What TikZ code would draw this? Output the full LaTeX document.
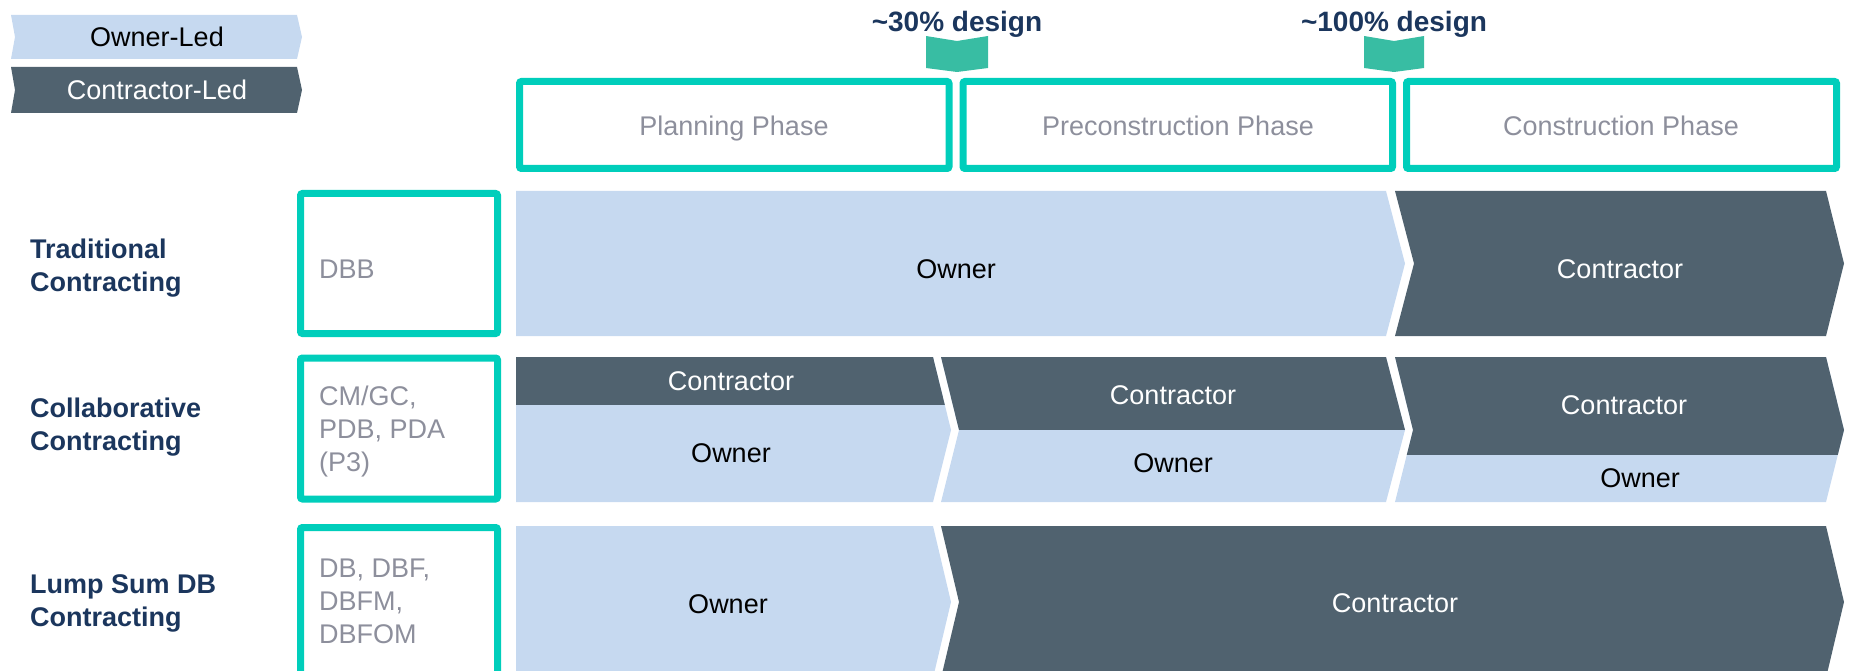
\documentclass[tikz,border=0pt]{standalone}
\usepackage{fontspec}
\setmainfont{Liberation Sans}
\definecolor{ownerblue}{RGB}{198,217,240}
\definecolor{contdark}{RGB}{80,98,111}
\definecolor{tealbox}{RGB}{0,206,187}
\definecolor{tealmark}{RGB}{56,189,163}
\definecolor{navy}{RGB}{27,54,93}
\definecolor{graytxt}{RGB}{141,143,156}
\tikzset{
  txt/.style={font=\fontsize{27}{33}\selectfont, inner sep=0pt, text depth=0pt},
  blk/.style={txt, text=black},
  wht/.style={txt, text=white},
  gry/.style={font=\fontsize{27}{33}\selectfont, inner sep=0pt, text=graytxt, align=left, anchor=west},
  rowlbl/.style={font=\bfseries\fontsize{27}{33}\selectfont, inner sep=0pt, text=navy, align=left, anchor=west},
  designlbl/.style={font=\bfseries\fontsize{28}{33}\selectfont, inner sep=0pt, text depth=0pt, text=navy},
  tealframe/.style={draw=tealbox, line width=7pt, rounded corners=2pt},
  ownfill/.style={fill=ownerblue},
  confill/.style={fill=contdark},
  markfill/.style={fill=tealmark}
}
\begin{document}
\begin{tikzpicture}[x=1pt,y=-1pt]
\useasboundingbox (0,0) rectangle (1852,671);
\clip (0,0) rectangle (1852,671);

% legend
\fill[ownfill] (11,15) -- (297,15) -- (302,37) -- (297,59) -- (11,59) -- (15,37) -- cycle;
\node[blk] (legown) at (157,37) {Owner-Led};
\fill[confill] (11,67) -- (297,67) -- (302,90) -- (297,113) -- (11,113) -- (15,90) -- cycle;
\node[wht] (legcon) at (157,90) {Contractor-Led};

% design markers
\node[designlbl] (d30) at (957,21) {\textasciitilde 30\% design};
\fill[markfill] (926,36) -- (957,41) -- (988,36) -- (988,68) -- (957,72) -- (926,68) -- cycle;
\node[designlbl] (d100) at (1394,21) {\textasciitilde 100\% design};
\fill[markfill] (1364,36) -- (1394,41) -- (1424,36) -- (1424,68) -- (1394,72) -- (1364,68) -- cycle;

% phase boxes
\draw[tealframe] (519.5,81.5) rectangle (949,168.5);
\node[txt, text=graytxt] (ph1) at (734,126) {Planning Phase};
\draw[tealframe] (963,81.5) rectangle (1392.5,168.5);
\node[txt, text=graytxt] (ph2) at (1178,126) {Preconstruction Phase};
\draw[tealframe] (1406.5,81.5) rectangle (1836.5,168.5);
\node[txt, text=graytxt] (ph3) at (1621,126) {Construction Phase};

% row labels
\node[rowlbl] (r1) at (30,268) {Traditional\\Contracting};
\node[rowlbl] (r2) at (30,427) {Collaborative\\Contracting};
\node[rowlbl] (r3) at (30,603) {Lump Sum DB\\Contracting};

% method boxes
\draw[tealframe] (300.5,193.5) rectangle (497.5,333.5);
\node[gry] (b1) at (319,269) {DBB};
\draw[tealframe] (300.5,358) rectangle (497.5,499);
\node[gry] (b2) at (319,432) {CM/GC,\\PDB, PDA\\(P3)};
\draw[tealframe] (300.5,527.5) rectangle (497.5,690);
\node[gry] (b3) at (319,601) {DB, DBF,\\DBFM,\\DBFOM};

% row 1
\fill[ownfill] (516,191) -- (1386,191) -- (1405,263.5) -- (1386,336) -- (516,336) -- cycle;
\node[blk] (t1o) at (956,269) {Owner};
\fill[confill] (1395,191) -- (1826,191) -- (1844,263.5) -- (1826,336) -- (1395,336) -- (1414,263.5) -- cycle;
\node[wht] (t1c) at (1620,269) {Contractor};

% row 2 planning
\fill[ownfill] (516,357) -- (933,357) -- (951,430) -- (933,502) -- (516,502) -- cycle;
\begin{scope}
\clip (0,0) rectangle (1852,404);
\fill[confill] (516,357) -- (933,357) -- (951,430) -- (933,502) -- (516,502) -- cycle;
\end{scope}
\node[wht] (t2ac) at (731,381) {Contractor};
\node[blk] (t2ao) at (731,453) {Owner};
% row 2 preconstruction
\fill[ownfill] (941,357) -- (1386,357) -- (1405,430) -- (1386,502) -- (941,502) -- (959,430) -- cycle;
\begin{scope}
\clip (0,0) rectangle (1852,429);
\fill[confill] (941,357) -- (1386,357) -- (1405,430) -- (1386,502) -- (941,502) -- (959,430) -- cycle;
\end{scope}
\node[wht] (t2bc) at (1173,395) {Contractor};
\node[blk] (t2bo) at (1173,463) {Owner};
% row 2 construction
\fill[ownfill] (1395,357) -- (1826,357) -- (1844,430) -- (1826,502) -- (1395,502) -- (1413,430) -- cycle;
\begin{scope}
\clip (0,0) rectangle (1852,454);
\fill[confill] (1395,357) -- (1826,357) -- (1844,430) -- (1826,502) -- (1395,502) -- (1413,430) -- cycle;
\end{scope}
\node[wht] (t2cc) at (1624,405) {Contractor};
\node[blk] (t2co) at (1640,478) {Owner};

% row 3
\fill[ownfill] (516,526) -- (933,526) -- (951,602) -- (933,678) -- (516,678) -- cycle;
\node[blk] (t3o) at (728,604) {Owner};
\fill[confill] (941,526) -- (1826,526) -- (1844,602) -- (1826,678) -- (941,678) -- (959,602) -- cycle;
\node[wht] (t3c) at (1395,603) {Contractor};
\end{tikzpicture}
\end{document}
